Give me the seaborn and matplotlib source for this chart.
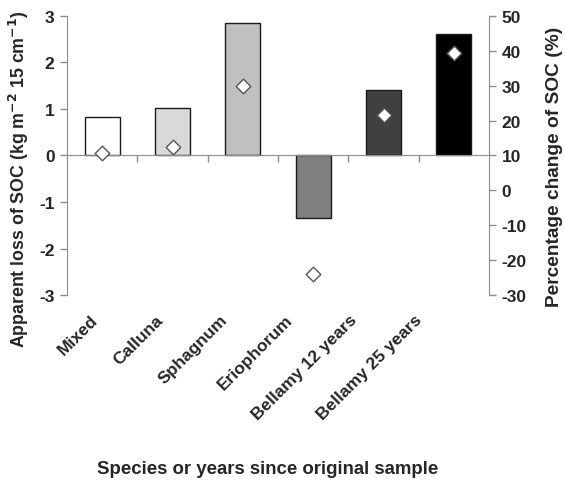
import numpy as np
import pandas as pd
import matplotlib
matplotlib.use('Agg')
import matplotlib.pyplot as plt
import matplotlib.transforms as mtransforms
import seaborn as sns

categories = ['Mixed', 'Calluna', 'Sphagnum', 'Eriophorum', 'Bellamy 12 years', 'Bellamy 25 years']
soc_loss = [0.83, 1.02, 2.85, -1.35, 1.41, 2.61]
pct_change = [10.8, 12.5, 30.0, -24.0, 21.5, 39.5]
bar_colors = ['#ffffff', '#d9d9d9', '#c0c0c0', '#808080', '#404040', '#000000']
left_ticks = [-3, -2, -1, 0, 1, 2, 3]
right_ticks = [-30, -20, -10, 0, 10, 20, 30, 40, 50]

sns.set_style('white')
plt.rcParams['font.family'] = ['Liberation Sans', 'DejaVu Sans']

df = pd.DataFrame({'cat': categories, 'loss': soc_loss, 'pct': pct_change})

fig = plt.figure(figsize=(5.65, 4.81), dpi=100)
ax = fig.add_axes([0.1186, 0.3846, 0.7469, 0.5801])

sns.barplot(data=df, x='cat', y='loss', hue='cat', palette=bar_colors, legend=False,
            width=0.5, edgecolor='#1a1a1a', linewidth=1.0, ax=ax)
ax.set_ylim(-3, 3)
ax.set_xlim(-0.5, len(categories) - 0.5)
ax.set_yticks(left_ticks)
ax.set_yticklabels([str(t) for t in left_ticks], fontweight='bold', fontsize=12.5)

gray = '#8c8c8c'
for s in ['top', 'right']:
    ax.spines[s].set_visible(False)
ax.spines['left'].set_color(gray)
ax.spines['bottom'].set_position(('data', 0))
ax.spines['bottom'].set_color(gray)
ax.tick_params(axis='y', direction='out', length=5, color=gray, width=1, left=True, pad=4)

# category separators on the zero line, labels at the bottom
ax.set_xticks(np.arange(len(categories)))
ax.set_xticklabels([])
ax.tick_params(axis='x', which='major', length=0)
ax.set_xticks(np.arange(len(categories) - 1) + 0.5, minor=True)
ax.tick_params(axis='x', which='minor', direction='out', length=5, color=gray, width=1, bottom=True)
ax.set_xlabel('')
ax.set_ylabel('')

trans = mtransforms.blended_transform_factory(ax.transData, ax.transAxes)
for i, c in enumerate(categories):
    ax.text(-0.17 + i * 0.922, -0.06, c, transform=trans, rotation=45, ha='right', va='top',
            rotation_mode='anchor', fontweight='bold', fontsize=12.5)

ax2 = ax.twinx()
sns.scatterplot(data=df, x='cat', y='pct', marker='D', s=55, color='white',
                edgecolor='#555555', linewidth=1.0, zorder=5, ax=ax2)
ax2.set_ylim(-30, 50)
ax2.set_yticks(right_ticks)
ax2.set_yticklabels([str(t) for t in right_ticks], fontweight='bold', fontsize=12.5)
for s in ['top', 'left', 'bottom']:
    ax2.spines[s].set_visible(False)
ax2.spines['right'].set_color(gray)
ax2.tick_params(axis='y', direction='out', length=5, color=gray, width=1, right=True, pad=4)
ax2.set_ylabel('')
ax2.set_xlabel('')

fig.text(0.033, 0.628, 'Apparent loss of SOC (kg m$^{\\mathbf{-2}}$ 15 cm$^{\\mathbf{-1}}$)',
         rotation=90, ha='center', va='center', fontsize=12.8, fontweight='bold')
fig.text(0.982, 0.653, 'Percentage change of SOC (%)', rotation=90, ha='center', va='center',
         fontsize=13.8, fontweight='bold')
fig.text(0.473, 0.023, 'Species or years since original sample', ha='center', va='center',
         fontsize=13.4, fontweight='bold')

fig.savefig('out.png', dpi=100)
